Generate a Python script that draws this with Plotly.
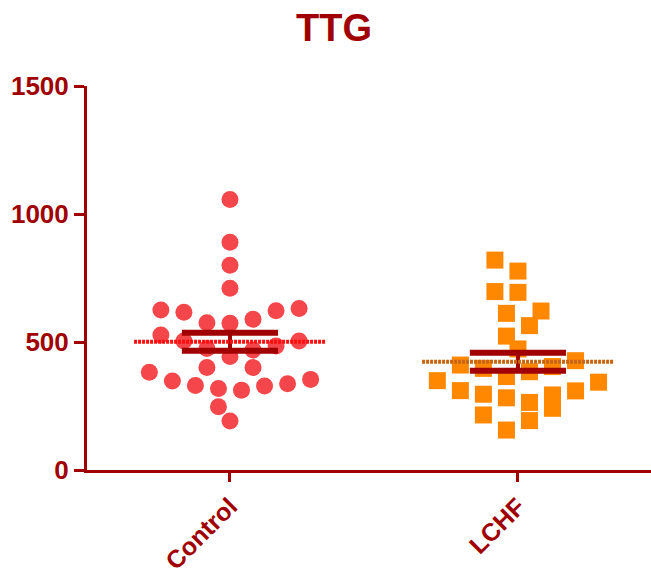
import numpy as np
import plotly.graph_objects as go

# ---------------- data ----------------
categories = ["Control", "LCHF"]
control_values = [1057, 890, 800, 710, 631, 625, 622, 616, 589, 575, 573,
                  527, 504, 504, 484, 475, 469, 443, 400, 400, 382, 354,
                  348, 337, 330, 328, 318, 312, 247, 191]
lchf_values = [820, 777, 697, 694, 621, 612, 564, 523, 473, 427, 410, 404,
               397, 384, 365, 349, 343, 310, 309, 296, 293, 282, 264, 241,
               215, 193, 156]
y_tick_values = [0, 500, 1000, 1500]
title_text = "TTG"

# ---------------- style ----------------
DARK = "#a00000"
FONT = "Arial, Liberation Sans, sans-serif"
POINT_COLORS = ["#f5474b", "#ff8800"]
MEAN_COLORS = ["#ff1010", "#c8650f"]
SYMBOLS = ["circle", "square"]
FIRST_SIDE = [1, -1]
X_RANGE = [-0.4965, 1.462]
PX_PER_X = 288.0      # plot pixels per x unit
PX_PER_Y = 384.0 / 1500.0


def swarm_offsets(values, first_side, gap=42, span=85, max_row=8,
                  step=0.08, min_dist=17):
    """Prism-like column scatter: bin values into rows, spread large rows
    center-out, then drop remaining points into the nearest free slot."""
    n = len(values)
    order = sorted(range(n), key=lambda i: values[i])
    rows, cur = [], []
    for i in order:
        v = values[i]
        if cur and (v - values[cur[-1]] > gap or v - values[cur[0]] > span
                    or len(cur) >= max_row):
            rows.append(cur)
            cur = []
        cur.append(i)
    if cur:
        rows.append(cur)
    sides = [first_side * (-1) ** k for k in range(len(rows))]
    offs = [None] * n
    placed = []

    for k, row in enumerate(rows):
        m = len(row)
        if m < 3:
            continue
        side = sides[k]
        slots = []
        if m % 2 == 1:
            slots.append(0.0)
            j = 1.0
            while len(slots) < m:
                slots.append(side * j)
                if len(slots) < m:
                    slots.append(-side * j)
                j += 1
        else:
            j = 0.5
            while len(slots) < m:
                slots.append(side * j)
                slots.append(-side * j)
                j += 1
        for idx, s in zip(row, slots):
            offs[idx] = s * step
            placed.append((s * step, values[idx]))

    for k, row in enumerate(rows):
        if len(row) >= 3:
            continue
        side = sides[k]
        for idx in row:
            cands = [0.0]
            for s in range(1, 12):
                cands += [side * 0.5 * s, -side * 0.5 * s]
            for c in cands:
                cx = c * step
                ok = all(np.hypot((cx - px) * PX_PER_X,
                                  (values[idx] - pv) * PX_PER_Y) >= min_dist
                         for px, pv in placed)
                if ok:
                    break
            offs[idx] = cx
            placed.append((cx, values[idx]))
    return offs


fig = go.Figure()
series = [control_values, lchf_values]

for gi, vals in enumerate(series):
    offs = swarm_offsets(list(vals), FIRST_SIDE[gi])
    fig.add_trace(go.Scatter(
        x=[gi + o for o in offs], y=vals, mode="markers",
        marker=dict(symbol=SYMBOLS[gi], size=17, color=POINT_COLORS[gi],
                    line=dict(width=0)),
        name=categories[gi], showlegend=False, hoverinfo="y"))

for gi, vals in enumerate(series):
    arr = np.array(vals, dtype=float)
    m = arr.mean()
    sem = arr.std(ddof=1) / np.sqrt(len(arr))
    cw = 0.167
    fig.add_trace(go.Scatter(
        x=[gi - cw, gi + cw, None, gi - cw, gi + cw],
        y=[m + sem, m + sem, None, m - sem, m - sem],
        mode="lines", line=dict(color=DARK, width=6),
        showlegend=False, hoverinfo="skip"))
    fig.add_trace(go.Scatter(
        x=[gi, gi], y=[m - sem, m + sem], mode="lines",
        line=dict(color=DARK, width=4), showlegend=False, hoverinfo="skip"))
    mw = 0.333
    fig.add_trace(go.Scatter(
        x=[gi - mw, gi + mw], y=[m, m], mode="lines",
        line=dict(color=MEAN_COLORS[gi], width=4, dash="3px,1px"),
        showlegend=False, hoverinfo="skip"))

fig.update_layout(
    width=651, height=580,
    margin=dict(l=87, r=0, t=86, b=110, autoexpand=False),
    paper_bgcolor="white", plot_bgcolor="white",
    title=dict(text="<b>%s</b>" % title_text, x=334 / 651, xref="container",
               xanchor="center", y=1 - 28 / 580, yref="container",
               yanchor="middle",
               font=dict(family=FONT, size=38, color=DARK)),
    font=dict(family=FONT, color=DARK),
)
fig.update_xaxes(
    range=X_RANGE, tickvals=[0, 1], ticktext=categories,
    tickangle=-45, showline=True, linecolor=DARK, linewidth=3,
    ticks="outside", ticklen=9, tickwidth=3, tickcolor=DARK,
    showgrid=False, zeroline=False, automargin=False,
    tickfont=dict(family=FONT, size=25, color=DARK, weight="bold"))
fig.update_yaxes(
    range=[0, 1500], tickvals=y_tick_values,
    ticktext=[str(v) for v in y_tick_values],
    showline=True, linecolor=DARK, linewidth=3,
    ticks="outside", ticklen=10, tickwidth=3, tickcolor=DARK,
    showgrid=False, zeroline=False, automargin=False,
    tickfont=dict(family=FONT, size=26, color=DARK, weight="bold"))

fig.write_html("out.html")
